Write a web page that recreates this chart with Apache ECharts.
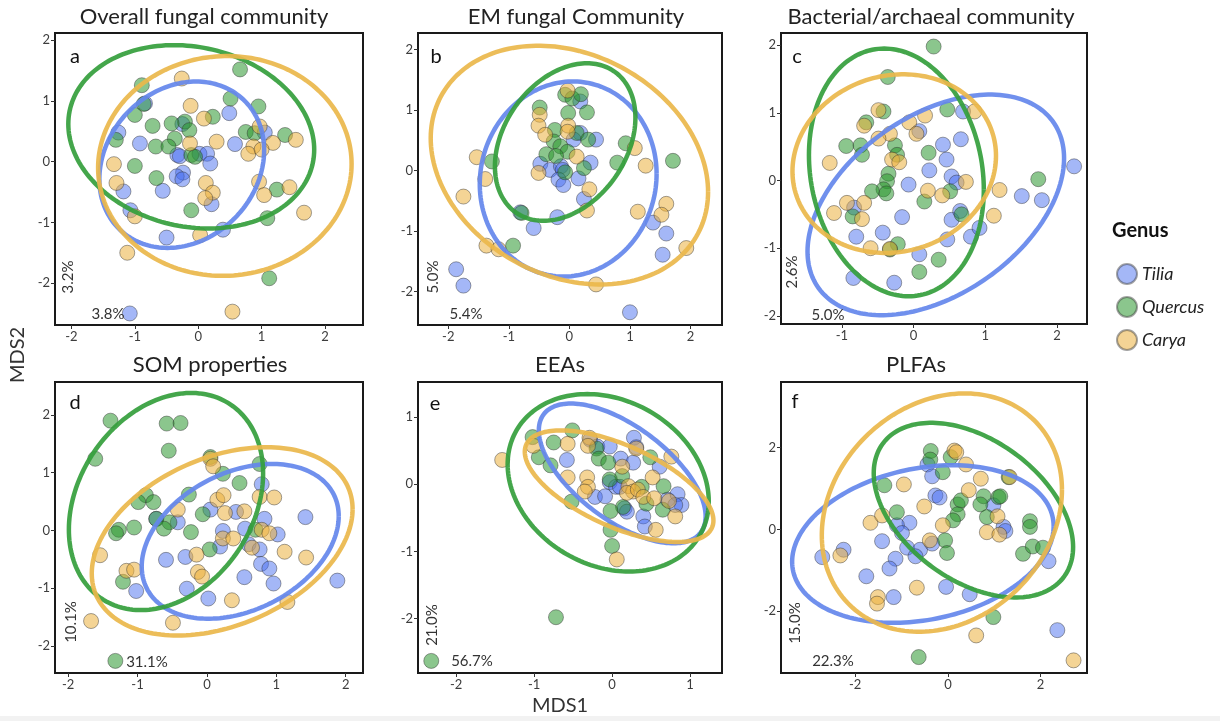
<!DOCTYPE html>
<html><head><meta charset="utf-8">
<script src="https://cdn.jsdelivr.net/npm/echarts@6/dist/echarts.min.js"></script>
<style>html,body{margin:0;padding:0;background:#fff}#c{width:1220px;height:721px}</style>
</head><body><div id="c"></div>
<script>
// ---------- DATA ----------
const genera = ['Tilia', 'Quercus', 'Carya'];
const panelTitles = ['Overall fungal community', 'EM fungal Community', 'Bacterial/archaeal community', 'SOM properties', 'EEAs', 'PLFAs'];
const panelLetters = ['a', 'b', 'c', 'd', 'e', 'f'];
const pctX = ['3.8%', '5.4%', '5.0%', '31.1%', '56.7%', '22.3%'];
const pctY = ['3.2%', '5.0%', '2.6%', '10.1%', '21.0%', '15.0%'];
const xTicks = [[-2,-1,0,1,2],[-2,-1,0,1,2],[-1,0,1,2],[-2,-1,0,1,2],[-2,-1,0,1],[-2,0,2]];
const yTicks = [[-2,-1,0,1,2],[-2,-1,0,1,2],[-2,-1,0,1,2],[-2,-1,0,1,2],[-2,-1,0,1],[-2,0,2]];
const xMin = [-2.26, -2.5, -1.85, -2.19, -2.49, -3.6];
const xMax = [2.6, 2.52, 2.42, 2.25, 1.41, 3.0];
const yMin = [-2.69, -2.55, -2.12, -2.47, -2.81, -3.52];
const yMax = [2.12, 2.27, 2.18, 2.57, 1.52, 3.61];

// Panel a
const a_tilia = [[0.49,0.80],[-1.26,0.48],[-0.92,0.30],[0.58,0.29],[1.05,0.48],[-0.25,0.62],[-0.33,0.11],[-0.29,0.09],[0.02,0.13],[0.14,0.13],[0.19,-0.03],[-0.24,-0.18],[-0.34,-0.24],[-0.25,-0.29],[-1.18,-0.49],[-0.56,-0.48],[0.21,-0.70],[-1.07,-0.80],[-0.50,-1.25],[0.39,-1.12],[-1.08,-2.50],[-0.84,0.96]];
const a_quercus = [[0.66,1.52],[-0.89,1.26],[0.51,1.04],[-0.86,0.95],[0.95,0.91],[-1.0,0.77],[0.23,0.74],[-0.21,0.66],[-0.42,0.63],[-0.72,0.59],[-0.14,0.52],[0.75,0.49],[0.89,0.47],[1.37,0.44],[-1.30,0.36],[-0.37,0.38],[-0.67,0.25],[-0.47,0.25],[-0.11,0.11],[-0.05,0.08],[-1.0,-0.07],[-0.66,-0.27],[-0.11,-0.80],[1.24,-0.46],[1.09,-0.93],[1.12,-1.92]];
const a_carya = [[-0.26,1.37],[-0.12,0.92],[0.09,0.71],[0.97,0.58],[0.29,0.33],[-0.13,0.30],[0.87,0.25],[1.18,0.31],[1.54,0.36],[0.79,0.13],[1.0,0.20],[-1.33,-0.04],[-1.29,-0.35],[0.12,-0.35],[0.23,-0.51],[0.11,-0.60],[0.96,-0.33],[1.04,-0.55],[1.44,-0.42],[1.67,-0.84],[-1.0,-0.90],[0.03,-1.21],[-1.12,-1.50],[0.54,-2.47]];
// Panel b
const b_tilia = [[0.18,1.14],[0.18,0.62],[0.44,0.51],[0.07,0.51],[-0.48,0.11],[-0.32,0.01],[-0.14,0.07],[-0.11,0.01],[-0.18,-0.15],[-0.10,-0.24],[0.15,-0.13],[0.35,0.13],[0.24,-0.47],[-0.20,-0.77],[-0.81,-0.69],[-0.59,-0.95],[1.38,-0.86],[1.60,-1.04],[1.54,-1.39],[-1.87,-1.63],[-1.75,-1.90],[1.0,-2.34]];
const b_quercus = [[-0.07,1.25],[0.05,1.19],[0.19,1.26],[-0.49,1.04],[-0.02,0.95],[0.29,0.96],[-0.24,0.67],[0.12,0.62],[-0.26,0.48],[-0.15,0.40],[-0.03,0.31],[0.31,0.51],[-0.38,0.27],[-0.22,0.24],[-0.07,-0.03],[0.24,0.04],[0.79,0.13],[0.93,0.45],[1.71,0.16],[-0.79,-0.70],[-0.93,-1.24],[-1.28,0.15]];
const b_carya = [[-0.03,1.32],[-0.49,0.92],[-0.51,0.74],[-0.40,0.59],[-0.02,0.74],[-0.03,0.64],[-1.53,0.22],[-1.39,-0.14],[-0.51,-0.04],[0.12,0.23],[1.08,0.37],[1.26,0.08],[0.33,-0.31],[0.29,-0.66],[1.13,-0.68],[1.60,-0.55],[1.52,-0.73],[-1.75,-0.43],[-1.37,-1.24],[-1.17,-1.30],[1.93,-1.28],[0.44,-1.88]];
// Panel c
const c_tilia = [[0.08,0.73],[0.41,0.53],[0.66,0.61],[0.69,1.02],[0.46,0.31],[0.22,0.15],[0.53,0.06],[0.60,-0.03],[-0.07,-0.06],[-0.16,-0.54],[-0.83,-0.40],[-0.80,-0.83],[-0.43,-0.77],[0.53,-0.58],[0.65,-0.45],[0.80,-0.83],[0.92,-0.70],[0.47,-0.87],[0.08,-1.09],[-0.84,-1.44],[-0.27,-1.51],[1.51,-0.23],[1.79,-0.29],[2.24,0.21]];
const c_quercus = [[0.28,1.98],[-0.36,1.53],[-0.42,1.02],[-0.66,0.86],[-0.94,0.51],[-0.74,0.52],[-0.72,0.38],[-0.26,0.52],[-0.23,0.38],[0.21,0.41],[0.47,1.05],[-0.35,0.10],[-0.37,-0.01],[-0.42,-0.13],[-0.58,-0.16],[-0.38,-0.19],[0.15,-0.31],[0.51,-0.16],[0.67,-0.50],[-0.85,-0.53],[-0.22,-0.94],[-0.33,-1.02],[0.35,-1.17],[0.08,-1.35],[1.74,0.02]];
const c_carya = [[-0.49,1.04],[-0.69,0.81],[-0.33,0.69],[-0.49,0.62],[-0.06,0.86],[0.16,0.96],[0.04,0.69],[0.85,1.02],[-1.17,0.26],[-0.30,0.31],[-0.20,0.27],[0.20,-0.15],[0.40,-0.22],[0.73,-0.02],[1.20,-0.14],[1.12,-0.52],[-0.93,-0.33],[-0.69,-0.33],[-0.72,-0.57],[-1.11,-0.48],[-0.60,-1.00],[-0.33,-1.01]];
// Panel d
const d_tilia = [[-0.73,0.20],[-0.42,0.14],[0.05,0.36],[0.42,0.32],[0.79,0.80],[0.83,0.20],[0.55,0.03],[1.02,-0.07],[0.23,-0.01],[0.19,-0.28],[0.60,-0.24],[0.76,-0.33],[0.78,-0.58],[0.90,-0.66],[-0.59,-0.51],[-0.31,-0.46],[-0.29,-1.01],[0.54,-0.81],[0.96,-0.92],[1.42,0.23],[1.88,-0.87],[-1.02,-1.05],[0.02,-1.18]];
const d_quercus = [[-1.39,1.90],[-0.58,1.85],[-0.38,1.86],[-0.55,1.38],[-1.61,1.24],[0.05,1.27],[0.23,0.98],[0.47,0.82],[0.76,1.15],[-0.88,0.61],[-0.99,0.49],[-0.77,0.49],[-0.26,0.62],[-0.06,0.28],[-0.73,0.20],[-0.54,0.14],[-0.62,0.03],[-1.05,0.05],[-1.27,0.01],[-1.31,-0.05],[-0.23,-0.03],[0.04,-0.33],[-1.21,-0.89],[-1.32,-2.26],[0.70,0.01]];
const d_carya = [[0.05,1.24],[0.09,1.11],[-0.42,0.36],[0.15,0.53],[0.24,0.61],[0.26,0.30],[0.54,0.33],[0.76,0.58],[0.97,0.57],[0.79,0.01],[0.90,-0.05],[0.23,-0.14],[0.38,-0.14],[-0.15,-0.42],[0.65,-0.30],[1.12,-0.37],[1.43,-0.47],[-1.54,-0.43],[-1.16,-0.70],[-1.05,-0.68],[-0.13,-0.72],[-0.07,-0.80],[0.36,-1.21],[1.16,-1.24],[-1.67,-1.57],[-0.49,-1.60]];
// Panel e
const e_tilia = [[-0.28,0.66],[-0.19,0.56],[-0.03,0.56],[0.11,0.38],[0.28,0.69],[0.31,0.55],[0.27,0.32],[0.61,0.26],[-0.58,0.36],[-0.03,0.03],[0.05,-0.04],[-0.22,-0.19],[-0.09,-0.18],[0.16,-0.36],[0.19,-0.41],[0.40,-0.48],[0.42,-0.63],[0.71,-0.23],[0.84,-0.15],[0.89,-0.31],[0.81,-0.31],[0.10,-0.04]];
const e_quercus = [[-1.02,0.70],[-0.51,0.80],[-0.75,0.62],[-0.94,0.40],[-0.79,0.28],[-0.20,0.53],[-0.17,0.38],[-0.05,0.32],[0.49,0.40],[0.13,0.12],[-0.03,0.07],[0.38,-0.04],[0.66,-0.03],[-0.52,-0.26],[0.14,-0.34],[0.44,-0.29],[0.65,-0.38],[-0.02,-0.40],[-0.02,-0.68],[0.00,-0.92],[-0.72,-1.98],[-2.32,-2.63]];
const e_carya = [[-1.41,0.36],[-1.01,0.57],[-0.57,0.60],[-0.29,0.69],[-0.31,0.57],[0.31,0.53],[0.76,0.41],[-0.57,0.10],[-0.32,0.10],[-0.31,-0.04],[-0.35,-0.11],[0.21,-0.03],[0.27,-0.11],[0.19,-0.13],[0.33,-0.08],[0.52,0.10],[0.40,-0.19],[0.54,-0.21],[0.73,-0.25],[0.81,-0.48],[0.56,-0.68],[0.06,-1.12],[0.13,0.26]];
// Panel f
const f_tilia = [[-0.44,1.59],[-0.34,1.30],[-0.27,0.83],[-0.18,0.78],[-0.83,0.16],[-1.10,0.10],[-0.99,-0.09],[-1.42,-0.29],[-0.88,-0.45],[-0.60,-0.50],[-0.34,-0.35],[-2.25,-0.50],[-2.71,-0.68],[-1.13,-0.72],[-1.26,-0.96],[-1.76,-1.15],[-0.70,-0.66],[-1.17,-1.66],[-0.04,-1.41],[0.47,-1.59],[0.98,0.59],[1.20,0.06],[1.24,-0.04],[2.17,-0.78],[2.36,-2.47]];
const f_quercus = [[-0.37,1.92],[-0.38,1.71],[0.06,1.77],[-0.11,1.40],[-1.37,1.08],[-1.10,0.42],[0.21,0.61],[0.28,0.71],[0.21,0.37],[0.11,0.22],[0.77,0.81],[0.70,0.61],[0.84,0.30],[1.09,0.79],[1.13,0.81],[1.77,0.20],[1.77,0.06],[-0.06,-0.27],[-0.02,-0.58],[1.62,-0.60],[1.83,-0.42],[2.05,-0.45],[1.31,1.28],[0.98,-2.15],[-0.63,-3.13]];
const f_carya = [[0.14,1.93],[0.18,1.89],[0.39,1.59],[-0.95,1.10],[0.71,1.24],[0.45,0.96],[-0.51,0.56],[-1.67,0.16],[-1.42,0.34],[-0.11,0.10],[1.07,0.32],[0.84,-0.07],[1.11,-0.13],[-0.39,-0.27],[-2.32,-0.64],[-0.67,-1.43],[-1.51,-1.66],[-1.53,-1.82],[0.61,-2.60],[2.71,-3.21],[1.33,1.28]];

// Ellipse parameters per panel, order Tilia, Quercus, Carya: [cx, cy, halfWidthX, halfHeightY, phaseDeg]
const a_ellipses = [[-0.26,-0.05,1.30,1.37,80],[-0.11,0.41,1.94,1.51,98],[0.42,-0.07,2.0,1.81,89]];
const b_ellipses = [[-0.02,-0.14,1.46,1.61,87],[-0.07,0.47,1.16,1.30,72],[0.0,0.09,2.29,1.97,103]];
const c_ellipses = [[0.31,-0.36,1.79,1.63,65],[-0.24,0.12,1.22,1.83,98],[-0.27,0.25,1.42,1.32,85]];
const d_ellipses = [[0.48,-0.19,1.42,1.34,71],[-0.59,0.50,1.40,1.88,75],[0.22,-0.19,1.88,1.63,70]];
const e_ellipses = [[0.13,0.16,1.07,1.04,128],[-0.05,0.02,1.29,1.32,102],[0.09,-0.03,1.21,0.83,128]];
const f_ellipses = [[-0.54,-0.36,2.82,1.93,77],[0.55,0.47,2.15,2.14,115],[-0.13,0.41,2.59,2.92,79]];

// ---------- STYLE / LAYOUT ----------
const pointColors = ['rgba(70,110,238,0.62)', 'rgba(40,150,45,0.68)', 'rgba(234,176,60,0.68)'];
const lineColors = ['rgba(100,135,235,0.92)', 'rgba(52,158,60,0.92)', 'rgba(234,183,75,0.92)'];
const FONT = 'Lato, "Open Sans", sans-serif';
const grids = [
  {left: 55, top: 33, width: 308, height: 292},
  {left: 418, top: 33, width: 304, height: 292},
  {left: 781, top: 33, width: 306, height: 291},
  {left: 55, top: 382, width: 308, height: 291},
  {left: 418, top: 382, width: 304, height: 291},
  {left: 781, top: 382, width: 306, height: 291}
];
const titlePos = [[204,17],[576,17],[931,17],[210,365],[560,365],[916,365]];
const letterPos = [[75,57],[436,57],[797,57],[75,403],[435,404],[795,402]];
const pctXPos = [[108,314],[466,314],[828,315],[147,662],[472,661],[833,661]];
const pctYPos = [[68,277],[433,277],[792,272],[71,622],[432,625],[795,623]];

const pointSets = [
  [a_tilia, a_quercus, a_carya], [b_tilia, b_quercus, b_carya], [c_tilia, c_quercus, c_carya],
  [d_tilia, d_quercus, d_carya], [e_tilia, e_quercus, e_carya], [f_tilia, f_quercus, f_carya]
];
const ellipseSets = [a_ellipses, b_ellipses, c_ellipses, d_ellipses, e_ellipses, f_ellipses];

const chart = echarts.init(document.getElementById('c'), null, {renderer: 'canvas'});

const gridOpt = grids.map(g => Object.assign({show: true, borderColor: '#1a1a1a', borderWidth: 2, backgroundColor: '#fff', containLabel: false}, g));
const axisCommon = {
  type: 'value',
  splitLine: {show: false},
  axisLine: {show: true, onZero: false, lineStyle: {color: '#1a1a1a', width: 2}},
  axisTick: {show: true, inside: false, length: 4, lineStyle: {color: '#333', width: 1}},
  axisLabel: {color: '#3d3d3d', fontSize: 13, fontFamily: FONT, margin: 5}
};
const xAxes = grids.map((g, i) => echarts.util.merge({
  gridIndex: i, min: xMin[i], max: xMax[i],
  axisTick: {customValues: xTicks[i]}, axisLabel: {customValues: xTicks[i]}
}, axisCommon));
const yAxes = grids.map((g, i) => echarts.util.merge({
  gridIndex: i, min: yMin[i], max: yMax[i],
  axisTick: {customValues: yTicks[i]}, axisLabel: {customValues: yTicks[i]}
}, axisCommon));

const series = [];
pointSets.forEach((sets, gi) => {
  sets.forEach((pts, k) => {
    series.push({
      type: 'scatter', name: genera[k], xAxisIndex: gi, yAxisIndex: gi,
      data: pts, symbol: 'circle', symbolSize: 15, z: 2,
      itemStyle: {color: pointColors[k], borderColor: 'rgba(45,45,45,0.55)', borderWidth: 1},
      emphasis: {disabled: true}
    });
  });
  series.push({
    type: 'custom', name: 'ellipse' + gi, xAxisIndex: gi, yAxisIndex: gi, z: 3, silent: true, clip: true,
    data: ellipseSets[gi],
    renderItem: function (params, api) {
      const cx = api.value(0), cy = api.value(1), ax = api.value(2), ay = api.value(3);
      const ph = api.value(4) * Math.PI / 180;
      const pts = [];
      for (let s = 0; s <= 180; s++) {
        const t = s / 180 * 2 * Math.PI;
        pts.push(api.coord([cx + ax * Math.cos(t), cy + ay * Math.cos(t - ph)]));
      }
      return {type: 'polyline', shape: {points: pts}, style: {stroke: lineColors[params.dataIndex], lineWidth: 4.5, fill: null}};
    }
  });
});

const graphics = [];
panelTitles.forEach((t, i) => {
  graphics.push({type: 'text', x: titlePos[i][0], y: titlePos[i][1], style: {text: t, font: '22px ' + FONT, fill: '#222', align: 'center', verticalAlign: 'middle'}});
  graphics.push({type: 'text', x: letterPos[i][0], y: letterPos[i][1], style: {text: panelLetters[i], font: '20px ' + FONT, fill: '#111', align: 'center', verticalAlign: 'middle'}, z: 10});
  graphics.push({type: 'text', x: pctXPos[i][0], y: pctXPos[i][1], style: {text: pctX[i], font: '15px ' + FONT, fill: '#333', align: 'center', verticalAlign: 'middle'}, z: 10});
  graphics.push({type: 'text', x: pctYPos[i][0], y: pctYPos[i][1], rotation: Math.PI / 2, style: {text: pctY[i], font: '15px ' + FONT, fill: '#333', align: 'center', verticalAlign: 'middle'}, z: 10});
});
graphics.push({type: 'text', x: 18, y: 355, rotation: Math.PI / 2, style: {text: 'MDS2', font: '20px ' + FONT, fill: '#333', align: 'center', verticalAlign: 'middle'}});
graphics.push({type: 'text', x: 560, y: 706, style: {text: 'MDS1', font: '20px ' + FONT, fill: '#333', align: 'center', verticalAlign: 'middle'}});
graphics.push({type: 'text', x: 1112, y: 231, style: {text: 'Genus', font: 'bold 20px ' + FONT, fill: '#111', align: 'left', verticalAlign: 'middle'}});
graphics.push({type: 'rect', shape: {x: 0, y: 716, width: 1220, height: 5}, style: {fill: '#f2f2f2'}});

chart.setOption({
  backgroundColor: '#fff',
  animation: false,
  grid: gridOpt,
  xAxis: xAxes,
  yAxis: yAxes,
  legend: {
    data: genera, orient: 'vertical', left: 1111, top: 258, icon: 'circle',
    itemWidth: 20, itemHeight: 20, itemGap: 11, selectedMode: false,
    textStyle: {fontFamily: FONT, fontSize: 18, fontStyle: 'italic', color: '#222'}
  },
  series: series,
  graphic: graphics
});
</script>
</body></html>
